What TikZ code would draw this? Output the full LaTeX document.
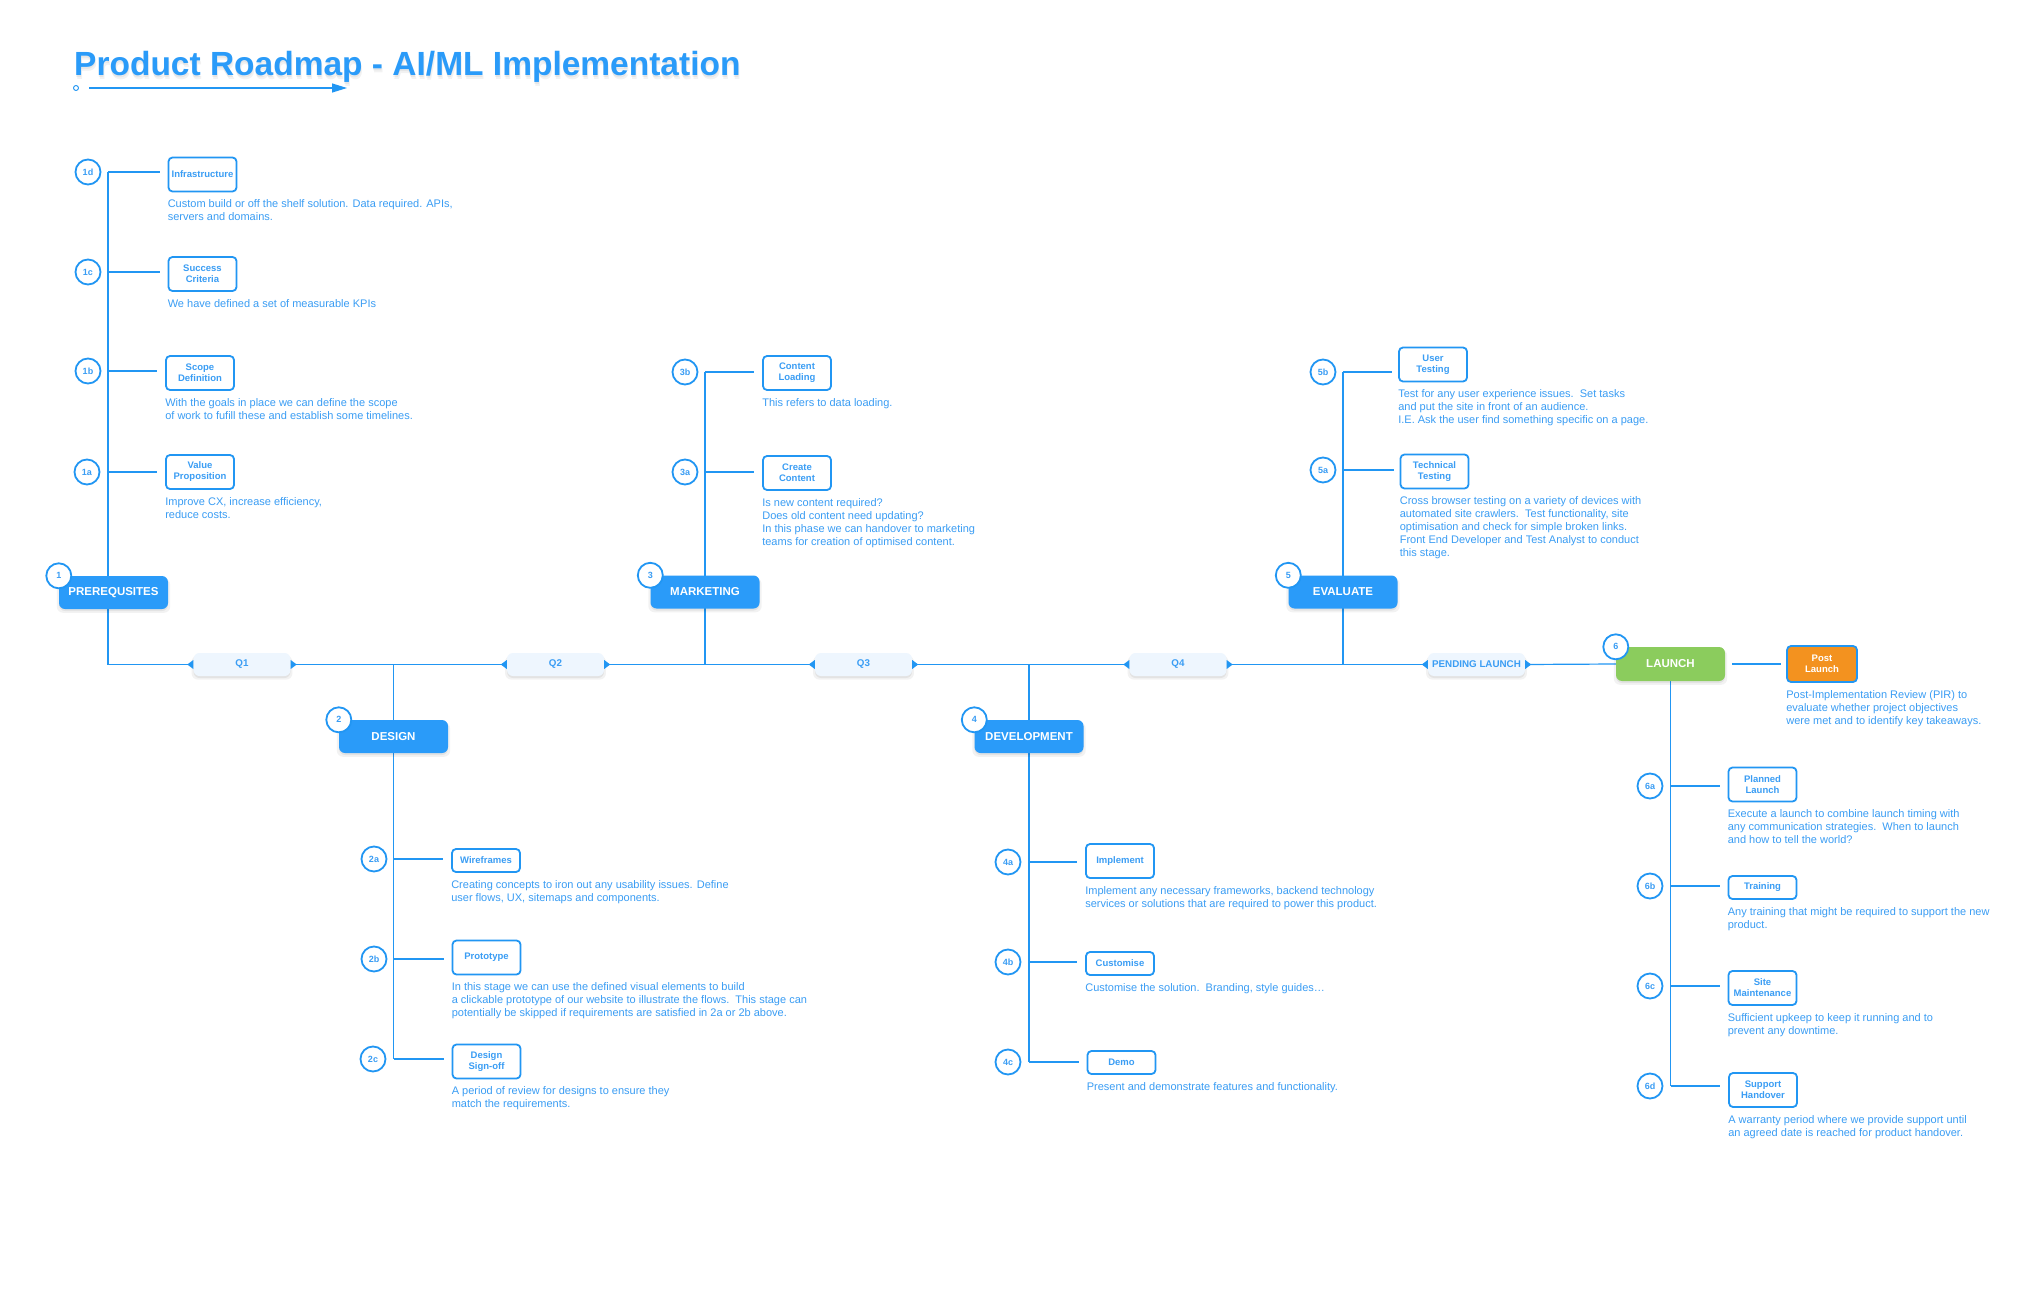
\documentclass[tikz,border=0pt]{standalone}
\usepackage{fontspec}
\setmainfont{Liberation Sans}
\usetikzlibrary{arrows.meta,shadows,calc}

\definecolor{lineblue}{HTML}{2196F3}
\definecolor{phaseblue}{HTML}{2A9BF9}
\definecolor{textblue}{HTML}{3A9DF4}
\definecolor{pillfill}{HTML}{EEF6FE}
\definecolor{launchgreen}{HTML}{8BCC5D}
\definecolor{postorange}{HTML}{F3921F}

\pgfdeclarelayer{backdrop}
\pgfdeclarelayer{wires}
\pgfsetlayers{backdrop,wires,main}

\tikzset{
  link/.style={draw=lineblue, line width=1.2pt},
  softshadow/.style={
    general shadow={shadow yshift=-3pt, shadow scale=1.04, fill=black, opacity=0.05},
    general shadow={shadow yshift=-2pt, fill=black, opacity=0.06}},
  phase/.style={softshadow, fill=phaseblue, rounded corners=6pt, minimum width=109pt,
    minimum height=33pt, text=white, inner sep=0,
    font=\fontsize{11.5}{13}\selectfont\bfseries},
  pill/.style={softshadow, fill=pillfill, rounded corners=6pt, minimum width=97pt,
    minimum height=23pt, text=textblue, inner sep=0,
    font=\fontsize{9.8}{11}\selectfont\bfseries},
  badge/.style={circle, draw=lineblue, line width=1.8pt, fill=white, minimum size=25pt,
    inner sep=0, text=textblue, font=\fontsize{9}{10}\selectfont\bfseries},
  item/.style={draw=lineblue, line width=1.8pt, fill=white, rounded corners=4pt,
    minimum width=68pt, inner sep=0, align=center, text=textblue,
    font=\fontsize{9.5}{11}\selectfont\bfseries},
  tall/.style={minimum height=34pt},
  short/.style={minimum height=23pt},
  desc/.style={anchor=north west, inner sep=0, align=left, text=textblue,
    font=\fontsize{11}{13}\selectfont},
}

\begin{document}
\begin{tikzpicture}[x=1pt,y=-1pt]
\useasboundingbox (0,0) rectangle (2030,1300);
\begin{pgfonlayer}{backdrop}
  \fill[white] (0,0) rectangle (2030,1300);
\end{pgfonlayer}

% ---- title ----
\node[anchor=base west, inner sep=0, text=black, opacity=0.05, font=\fontsize{33.5}{40}\selectfont\bfseries] at (75,80) {Product Roadmap - AI/ML Implementation};
\node[anchor=base west, inner sep=0, text=black, opacity=0.05, font=\fontsize{33.5}{40}\selectfont\bfseries] at (74,78) {Product Roadmap - AI/ML Implementation};
\node[anchor=base west, inner sep=0, text=phaseblue, font=\fontsize{33.5}{40}\selectfont\bfseries] (title) at (74,76) {Product Roadmap - AI/ML Implementation};
\node[circle, draw=lineblue, line width=0.9pt, fill=white, minimum size=5pt, inner sep=0] (tdot) at (76,88) {};
\coordinate (tstart) at (89,88);
\coordinate (tend) at (347,88);
\draw[draw=lineblue, line width=1.2pt, -{Triangle[length=15pt,width=9pt]}] (tstart) -- (tend);

% ---- phases ----
\node[phase] (p1) at (113.5,592.5) {PREREQUSITES};
\node[phase] (p2) at (393.5,736.5) {DESIGN};
\node[phase] (p3) at (705,592) {MARKETING};
\node[phase] (p4) at (1029,736.5) {DEVELOPMENT};
\node[phase] (p5) at (1343,592) {EVALUATE};
\node[phase, fill=launchgreen, minimum height=34pt] (p6) at (1670.5,664) {LAUNCH};
\foreach \k in {1,...,6} \node[badge] (n\k) at (p\k.north west) {\k};

\node[item, fill=postorange, text=white, minimum height=36pt, minimum width=70pt] (post) at (1822,664) {Post\\Launch};
\node[desc] (dpost) at ([yshift=-7pt]post.south west) {Post-Implementation Review (PIR) to\\evaluate whether project objectives\\were met and to identify key takeaways.};

% ---- quarter markers ----
\node[pill] (q1) at (242,664.5) {Q1};
\node[pill] (q2) at (555.5,664.5) {Q2};
\node[pill] (q3) at (863.5,664.5) {Q3};
\node[pill] (q4) at (1178,664.5) {Q4};
\node[pill] (q5) at (1476.5,664.5) {PENDING LAUNCH};
\foreach \q in {q1,q2,q3,q4,q5}{
  \fill[lineblue] (\q.west) ++(0,-4.5) -- ++(0,9) -- ++(-6,-4.5) -- cycle;
  \fill[lineblue] (\q.east) ++(0,-4.5) -- ++(0,9) -- ++(6,-4.5) -- cycle;
}

% ---- 1: prerequisites ----
\node[item, tall] (i1d) at (202.5,174.5) {Infrastructure};
\node[item, tall] (i1c) at (202.5,274) {Success\\Criteria};
\node[item, tall] (i1b) at (200,373) {Scope\\Definition};
\node[item, tall] (i1a) at (200,472) {Value\\Proposition};
\node[badge] (b1d) at (88,172) {1d};
\node[badge] (b1c) at (88,272) {1c};
\node[badge] (b1b) at (88,371) {1b};
\node[badge] (b1a) at (87,472) {1a};
\node[desc] at ([yshift=-7pt]i1d.south west) {Custom build or off the shelf solution. Data required. APIs,\\servers and domains.};
\node[desc] at ([yshift=-7pt]i1c.south west) {We have defined a set of measurable KPIs};
\node[desc] at ([yshift=-7pt]i1b.south west) {With the goals in place we can define the scope\\of work to fufill these and establish some timelines.};
\node[desc] at ([yshift=-7pt]i1a.south west) {Improve CX, increase efficiency,\\reduce costs.};

% ---- 2: design ----
\node[item, short] (i2a) at (486,860.5) {Wireframes};
\node[item, tall] (i2b) at (486.5,957.5) {Prototype};
\node[item, tall] (i2c) at (486.5,1061.5) {Design\\Sign-off};
\node[badge] (b2a) at (374,859) {2a};
\node[badge] (b2b) at (374,959) {2b};
\node[badge] (b2c) at (373,1059) {2c};
\node[desc] at ([yshift=-7pt]i2a.south west) {Creating concepts to iron out any usability issues. Define\\user flows, UX, sitemaps and components.};
\node[desc] at ([yshift=-7pt]i2b.south west) {In this stage we can use the defined visual elements to build\\a clickable prototype of our website to illustrate the flows.\ \ This stage can\\potentially be skipped if requirements are satisfied in 2a or 2b above.};
\node[desc] at ([yshift=-7pt]i2c.south west) {A period of review for designs to ensure they\\match the requirements.};

% ---- 3: marketing ----
\node[item, tall] (i3b) at (797,373) {Content\\Loading};
\node[item, tall] (i3a) at (797,473) {Create\\Content};
\node[badge] (b3b) at (685,372) {3b};
\node[badge] (b3a) at (685,472) {3a};
\node[desc] at ([yshift=-7pt]i3b.south west) {This refers to data loading.};
\node[desc] at ([yshift=-7pt]i3a.south west) {Is new content required?\\Does old content need updating?\\In this phase we can handover to marketing\\teams for creation of optimised content.};

% ---- 4: development ----
\node[item, tall] (i4a) at (1120,861) {Implement};
\node[item, short] (i4b) at (1120,963.5) {Customise};
\node[item, short] (i4c) at (1121.5,1062.5) {Demo};
\node[badge] (b4a) at (1008,862) {4a};
\node[badge] (b4b) at (1008,962) {4b};
\node[badge] (b4c) at (1008,1062) {4c};
\node[desc] at ([yshift=-7pt]i4a.south west) {Implement any necessary frameworks, backend technology\\services or solutions that are required to power this product.};
\node[desc] at ([yshift=-7pt]i4b.south west) {Customise the solution.\ \ Branding, style guides…};
\node[desc] at ([yshift=-7pt]i4c.south west) {Present and demonstrate features and functionality.};

% ---- 5: evaluate ----
\node[item, tall] (i5b) at (1433,364.5) {User\\Testing};
\node[item, tall] (i5a) at (1434.5,471.5) {Technical\\Testing};
\node[badge] (b5b) at (1323,372) {5b};
\node[badge] (b5a) at (1323,470) {5a};
\node[desc] at ([yshift=-7pt]i5b.south west) {Test for any user experience issues.\ \ Set tasks\\and put the site in front of an audience.\\I.E. Ask the user find something specific on a page.};
\node[desc] at ([yshift=-7pt]i5a.south west) {Cross browser testing on a variety of devices with\\automated site crawlers.\ \ Test functionality, site\\optimisation and check for simple broken links.\\Front End Developer and Test Analyst to conduct\\this stage.};

% ---- 6: launch ----
\node[item, tall] (i6a) at (1762.5,784.5) {Planned\\Launch};
\node[item, short] (i6b) at (1762.5,887.5) {Training};
\node[item, tall] (i6c) at (1762.5,988) {Site\\Maintenance};
\node[item, tall] (i6d) at (1763,1090) {Support\\Handover};
\node[badge] (b6a) at (1650,786) {6a};
\node[badge] (b6b) at (1650,886) {6b};
\node[badge] (b6c) at (1650,986) {6c};
\node[badge] (b6d) at (1650,1086) {6d};
\node[desc] at ([yshift=-7pt]i6a.south west) {Execute a launch to combine launch timing with\\any communication strategies.\ \ When to launch\\and how to tell the world?};
\node[desc] at ([yshift=-7pt]i6b.south west) {Any training that might be required to support the new\\product.};
\node[desc] at ([yshift=-7pt]i6c.south west) {Sufficient upkeep to keep it running and to\\prevent any downtime.};
\node[desc] at ([yshift=-7pt]i6d.south west) {A warranty period where we provide support until\\an agreed date is reached for product handover.};

% ---- connectors ----
\begin{pgfonlayer}{wires}
  \coordinate (s1) at (108,172);
  % timeline
  \draw[link] (s1) |- (q1.west);
  \draw[link] (q1.east) -- (q2.west);
  \draw[link] (q2.east) -- (q3.west);
  \draw[link] (q3.east) -- (q4.west);
  \draw[link] (q4.east) -- (q5.west);
  \draw[link] (q5.east) -- (p6.west);
  % spines
  \draw[link] (p2 |- q1.east) -- (p2 |- b2c);
  \draw[link] (p3 |- b3b) -- (p3 |- q2.east);
  \draw[link] (p4 |- q3.east) -- (p4 |- b4c);
  \draw[link] (p5 |- b5b) -- (p5 |- q4.east);
  \draw[link] (p6.south) -- (p6 |- b6d);
  \draw[link, shorten <=7pt, shorten >=5pt] (p6.east) -- (post.west);
  % branches
  \foreach \r in {1d,1c,1b,1a} \draw[link, shorten >=8pt] (s1 |- b\r) -- (i\r.west |- b\r);
  \foreach \r in {2a,2b,2c} \draw[link, shorten >=8pt] (p2 |- b\r) -- (i\r.west |- b\r);
  \foreach \r in {3b,3a} \draw[link, shorten >=8pt] (p3 |- b\r) -- (i\r.west |- b\r);
  \foreach \r in {4a,4b,4c} \draw[link, shorten >=8pt] (p4 |- b\r) -- (i\r.west |- b\r);
  \foreach \r in {5b,5a} \draw[link, shorten >=6pt] (p5 |- b\r) -- (i\r.west |- b\r);
  \foreach \r in {6a,6b,6c,6d} \draw[link, shorten >=8pt] (p6 |- b\r) -- (i\r.west |- b\r);
\end{pgfonlayer}
\end{tikzpicture}
\end{document}
